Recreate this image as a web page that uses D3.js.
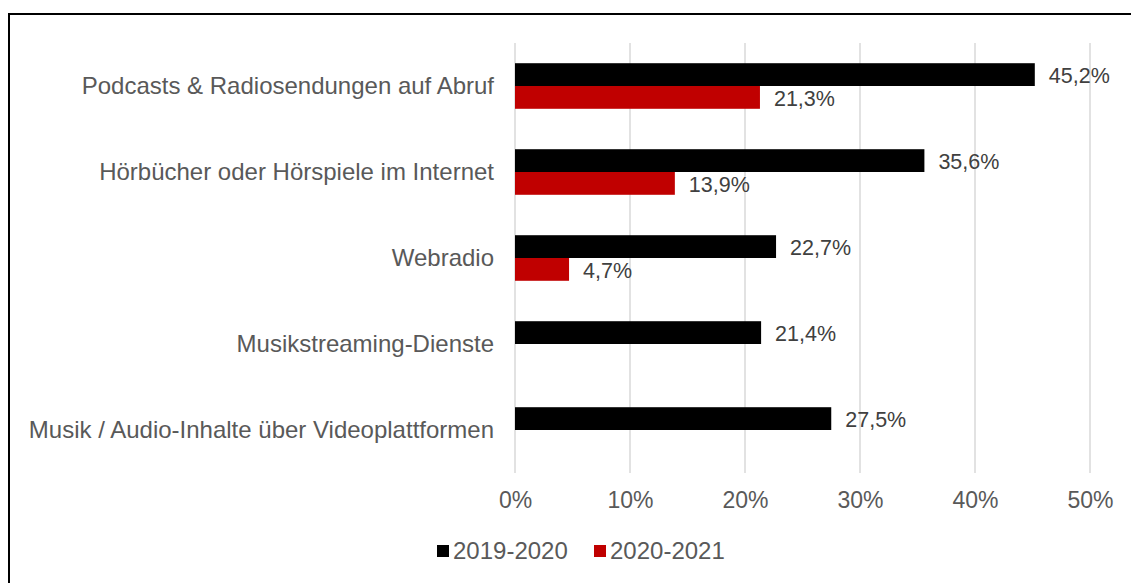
<!DOCTYPE html>
<html>
<head>
<meta charset="utf-8">
<script src="https://cdn.jsdelivr.net/npm/d3@7"></script>
<style>
  body { margin: 0; background: #fff; }
  svg text { font-family: "Liberation Sans", Arial, sans-serif; }
</style>
</head>
<body>
<div id="chart"></div>
<script>
const categories = [
  "Podcasts & Radiosendungen auf Abruf",
  "Hörbücher oder Hörspiele im Internet",
  "Webradio",
  "Musikstreaming-Dienste",
  "Musik / Audio-Inhalte über Videoplattformen"
];
const seriesNames = ["2019-2020", "2020-2021"];
const values2019 = [45.2, 35.6, 22.7, 21.4, 27.5];
const values2021 = [21.3, 13.9, 4.7, null, null];
const colors = ["#000000", "#c00000"];
const tickValues = [0, 10, 20, 30, 40, 50];

const width = 1131;
const height = 583;
const margin = { top: 43, right: 41, bottom: 110, left: 515 };

const svg = d3.select("#chart")
  .append("svg")
  .attr("width", width)
  .attr("height", height);

// outer frame
svg.append("path")
  .attr("d", `M9,${height} V14 H1131`)
  .attr("fill", "none")
  .attr("stroke", "#000")
  .attr("stroke-width", 2);

const x = d3.scaleLinear()
  .domain([0, 50])
  .range([margin.left, width - margin.right]);

const y = d3.scaleBand()
  .domain(categories)
  .range([margin.top, height - margin.bottom])
  .paddingInner(0.47)
  .paddingOuter(0.235);

const sub = d3.scaleBand()
  .domain(seriesNames)
  .range([0, y.bandwidth()]);

// gridlines
svg.append("g")
  .selectAll("line")
  .data(tickValues)
  .join("line")
  .attr("x1", d => x(d))
  .attr("x2", d => x(d))
  .attr("y1", margin.top)
  .attr("y2", height - margin.bottom)
  .attr("stroke", "#d9d9d9")
  .attr("stroke-width", 1.5);

// x axis tick labels
const xAxis = svg.append("g")
  .attr("transform", `translate(0, ${height - margin.bottom + 16})`)
  .call(d3.axisBottom(x).tickValues(tickValues).tickSize(0).tickFormat(d => d + "%"));
xAxis.select(".domain").remove();
xAxis.selectAll("text")
  .attr("fill", "#595959")
  .style("font-size", "23px");

// category labels
svg.append("g")
  .selectAll("text")
  .data(categories)
  .join("text")
  .attr("x", margin.left - 21)
  .attr("y", d => y(d) + y.bandwidth() / 2)
  .attr("dy", "0.35em")
  .attr("text-anchor", "end")
  .attr("fill", "#595959")
  .style("font-size", "24px")
  .text(d => d);

const series = [
  { name: seriesNames[0], values: values2019, color: colors[0] },
  { name: seriesNames[1], values: values2021, color: colors[1] }
];

series.forEach(s => {
  const pts = categories.map((c, i) => ({ cat: c, v: s.values[i] })).filter(d => d.v !== null);
  const g = svg.append("g");
  g.selectAll("rect")
    .data(pts)
    .join("rect")
    .attr("x", x(0))
    .attr("y", d => y(d.cat) + sub(s.name))
    .attr("width", d => x(d.v) - x(0))
    .attr("height", sub.bandwidth())
    .attr("fill", s.color);
  g.selectAll("text")
    .data(pts)
    .join("text")
    .attr("x", d => x(d.v) + 14)
    .attr("y", d => y(d.cat) + sub(s.name) + sub.bandwidth() / 2 + 1)
    .attr("dy", "0.35em")
    .attr("fill", "#404040")
    .style("font-size", "21.5px")
    .text(d => d.v.toFixed(1).replace(".", ",") + "%");
});

// legend
const legend = svg.append("g").attr("transform", "translate(437, 551)");
const legendX = [0, 157];
series.forEach((s, i) => {
  const lg = legend.append("g").attr("transform", `translate(${legendX[i]}, 0)`);
  lg.append("rect")
    .attr("x", 0).attr("y", -6)
    .attr("width", 12).attr("height", 12)
    .attr("fill", s.color);
  lg.append("text")
    .attr("x", 16).attr("y", 0)
    .attr("dy", "0.35em")
    .attr("fill", "#595959")
    .style("font-size", "24px")
    .text(s.name);
});
</script>
</body>
</html>
